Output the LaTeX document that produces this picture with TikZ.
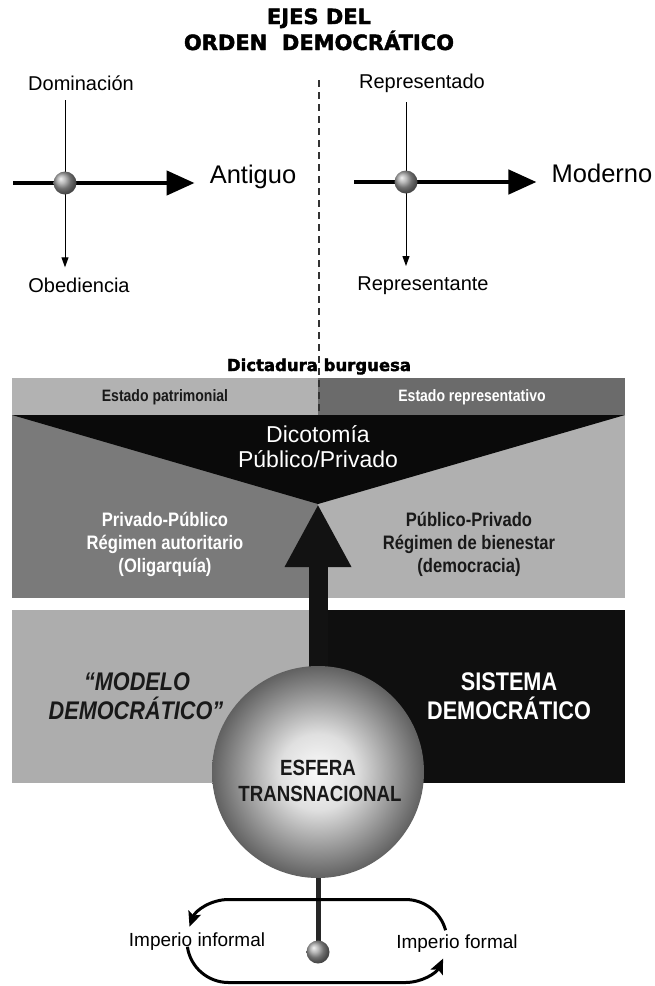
\documentclass[tikz,border=0pt]{standalone}
\usepackage{fontspec}
\setmainfont{Liberation Sans}
\newfontfamily\heavyfont[BoldFeatures={FakeBold=2}]{DejaVu Sans}
\newfontfamily\narrowfont[FakeStretch=0.85]{Liberation Sans}
\usetikzlibrary{arrows.meta}

\definecolor{bandL}{gray}{0.70}
\definecolor{bandR}{gray}{0.42}
\definecolor{midL}{gray}{0.48}
\definecolor{midR}{gray}{0.69}
\definecolor{lowL}{gray}{0.68}
\definecolor{lowR}{gray}{0.06}
\definecolor{ink}{gray}{0.10}

\pgfdeclareradialshading{sphere}{\pgfpoint{0bp}{0bp}}{color(0bp)=(gray!4); color(9bp)=(gray!25); color(25bp)=(black!62); color(50bp)=(black!62)}

\begin{document}
\begin{tikzpicture}[x=1pt,y=-1pt,
    txt/.style={anchor=base,inner sep=0pt},
    lbl/.style={txt,font=\fontsize{20}{24}\selectfont},
    axlbl/.style={txt,font=\fontsize{25.5}{30}\selectfont},
    ttl/.style={txt,font=\heavyfont\bfseries\fontsize{21}{25}\selectfont},
    band/.style={txt,font=\narrowfont\bfseries\fontsize{16.5}{20}\selectfont},
    mid/.style={txt,font=\narrowfont\bfseries\fontsize{19.5}{23}\selectfont},
    low/.style={txt,font=\narrowfont\bfseries\fontsize{25.5}{30}\selectfont},
    dot/.style={circle,inner sep=0pt,minimum size=23pt,shading=ball,ball color=gray!75},
    axis/.style={line width=4.5pt,shorten >=15pt,-{Triangle[length=28pt,width=24pt]}},
    pole/.style={line width=1pt,shorten <=10pt,shorten >=10pt,-{Triangle[length=10pt,width=7pt]}},
    turn/.style={line width=3pt,-{Stealth[length=15pt,width=13pt,inset=3pt]}}]

    \useasboundingbox (0,0) rectangle (655,986);

    \def\xl{12}
    \def\xm{318}
    \def\xr{625}
    \def\rr{41.5}

    \node[ttl] (t1) at (319,24) {EJES DEL};
    \node[ttl] (t2) at (319,50) {ORDEN~~DEMOCRÁTICO};

    \node[lbl] (dom) at (81,90) {Dominación};
    \node[lbl] (obe) at (79,292) {Obediencia};
    \node[axlbl] (ant) at (253,183) {Antiguo};
    \coordinate (o1) at (65,183);
    \coordinate (a1) at (13,183);
    \draw[pole] (o1 |- dom.south) -- (o1 |- obe.north);
    \draw[axis] (a1) -- (o1 -| ant.west);
    \node[dot] (c1) at (o1) {};

    \node[lbl] (rep) at (422,88) {Representado};
    \node[lbl] (rpt) at (423,290) {Representante};
    \node[axlbl] (mod) at (602,182) {Moderno};
    \coordinate (o2) at (406,182);
    \coordinate (a2) at (354,182);
    \draw[pole] (o2 |- rep.south) -- (o2 |- rpt.north);
    \draw[axis] (a2) -- (o2 -| mod.west);
    \node[dot] (c2) at (o2) {};

    \fill[bandL] (\xl,378) rectangle (\xm,415);
    \fill[bandR] (\xm,378) rectangle (\xr,415);
    \fill[midL] (\xl,415) rectangle (\xm,598);
    \fill[midR] (\xm,415) rectangle (\xr,598);
    \coordinate (apex) at (\xm,504);
    \fill[black!96] (\xl,415) -- (\xr,415) -- (apex) -- cycle;
    \fill[lowL] (\xl,610) rectangle (310,783);
    \fill[lowR] (310,610) rectangle (\xr,783);

    \node[ttl,font=\heavyfont\bfseries\fontsize{16.5}{20}\selectfont] (dict) at (319,371) {Dictadura burguesa};
    \coordinate (dtop) at (319,80);
    \coordinate (dbot) at (319,415);
    \draw[line width=1.2pt,dash pattern=on 7pt off 5pt,black!80] (dtop) -- (dbot);

    \node[band,ink] (pat) at (165,401.5) {Estado patrimonial};
    \node[band,white] (rpv) at (472,401.5) {Estado representativo};

    \node[txt,white,font=\fontsize{23}{27}\selectfont] (dic1) at (\xm,442.5) {Dicotomía};
    \node[txt,white,font=\fontsize{23}{27}\selectfont] (dic2) at (\xm,467.5) {Público/Privado};

    \node[mid,white] (pp1) at (165,526) {Privado-Público};
    \node[mid,white] (pp2) at (165,549) {Régimen autoritario};
    \node[mid,white] (pp3) at (165,572) {(Oligarquía)};
    \node[mid,ink] (qq1) at (469,526) {Público-Privado};
    \node[mid,ink] (qq2) at (469,549) {Régimen de bienestar};
    \node[mid,ink] (qq3) at (469,572) {(democracia)};

    \node[low,ink,font=\narrowfont\bfseries\itshape\fontsize{25.5}{30}\selectfont] (md1) at (137,690) {“MODELO};
    \node[low,ink,font=\narrowfont\bfseries\itshape\fontsize{25.5}{30}\selectfont] (md2) at (136,719) {DEMOCRÁTICO”};
    \node[low,white] (sd1) at (509,690) {SISTEMA};
    \node[low,white] (sd2) at (509,719) {DEMOCRÁTICO};

    \coordinate (sc) at (\xm,772);
    \draw[line width=19pt,black!93,-{Triangle[length=63pt,width=62pt]}] (sc) -- (apex);
    \node[circle,minimum size=212pt,inner sep=0pt,shading=sphere] (sph) at (sc) {};
    \node[txt,ink,font=\narrowfont\bfseries\fontsize{22}{26}\selectfont] (es1) at (\xm,775) {ESFERA};
    \node[txt,ink,font=\narrowfont\bfseries\fontsize{22}{26}\selectfont] (es2) at (320,801) {TRANSNACIONAL};

    \coordinate (hc) at (\xm,952);
    \draw[line width=5pt,black!85] (sph.south) -- (hc);
    \node[dot] (hub) at (hc) {};

    \coordinate (lc) at (228.5,941);
    \coordinate (rc) at (405.5,941);
    \draw[turn] (rc) ++(-15:\rr) arc[start angle=-15,end angle=-90,radius=\rr] -- ++(-177,0) arc[start angle=-90,end angle=-160,radius=\rr];
    \draw[turn] (lc) ++(172:\rr) arc[start angle=172,end angle=90,radius=\rr] -- ++(177,0) arc[start angle=90,end angle=25,radius=\rr];

    \node[lbl,font=\fontsize{19}{23}\selectfont] (inf) at (197,946) {Imperio informal};
    \node[lbl,font=\fontsize{19}{23}\selectfont] (frm) at (457,948) {Imperio formal};

\end{tikzpicture}
\end{document}
